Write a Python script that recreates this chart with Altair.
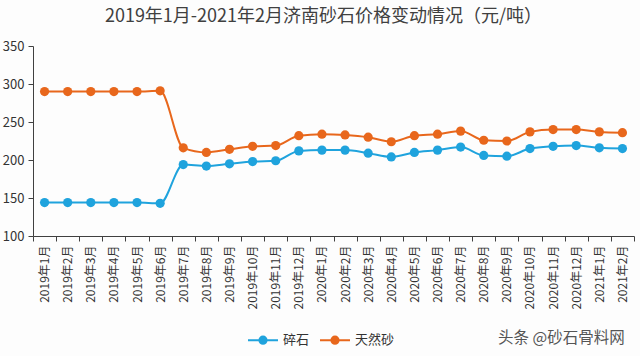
import altair as alt
import pandas as pd

months = [
    "2019年1月", "2019年2月", "2019年3月", "2019年4月", "2019年5月", "2019年6月",
    "2019年7月", "2019年8月", "2019年9月", "2019年10月", "2019年11月", "2019年12月",
    "2020年1月", "2020年2月", "2020年3月", "2020年4月", "2020年5月", "2020年6月",
    "2020年7月", "2020年8月", "2020年9月", "2020年10月", "2020年11月", "2020年12月",
    "2021年1月", "2021年2月",
]
crushed_stone = [144, 144, 144, 144, 144, 143, 194, 192, 195, 198, 199, 212, 213,
                 213, 209, 204, 210, 213, 217, 206, 205, 215, 218, 219, 216, 215]
natural_sand = [290, 290, 290, 290, 290, 291, 216, 210, 214, 218, 219, 232, 234,
                233, 230, 224, 232, 234, 238, 226, 225, 237, 240, 240, 237, 236]
series_names = ["碎石", "天然砂"]
series_colors = ["#1fa3dd", "#e8671c"]
y_ticks = [100, 150, 200, 250, 300, 350]

title_text = "2019年1月-2021年2月济南砂石价格变动情况（元/吨）"
watermark = "头条 @砂石骨料网"

FONT = "Noto Sans CJK SC"
AXIS_COLOR = "#404040"

rows = []
for name, vals in zip(series_names, [crushed_stone, natural_sand]):
    for m, v in zip(months, vals):
        rows.append({"month": m, "series": name, "value": v})
df = pd.DataFrame(rows)

# legend symbol: a short line with a filled dot (concentric circles to fill it)
def circ(r):
    return f"M{-r},0A{r},{r},0,1,1,{r},0A{r},{r},0,1,1,{-r},0"
legend_symbol = "M-1,0L1,0" + circ(0.24) + circ(0.14) + circ(0.05)

x_enc = alt.X(
    "month:N", sort=months, bandPosition=0.5,
    scale=alt.Scale(type="band", paddingInner=0, paddingOuter=0),
    axis=alt.Axis(title=None, labelAngle=270, tickBand="extent", labelFont=FONT,
                  labelFontSize=12, labelColor="#333333", domainColor=AXIS_COLOR,
                  tickColor=AXIS_COLOR, tickSize=5, labelPadding=4, grid=False),
)
y_enc = alt.Y(
    "value:Q",
    scale=alt.Scale(domain=[100, 350], nice=False, zero=False),
    axis=alt.Axis(title=None, values=y_ticks, grid=False, labelFont=FONT,
                  labelFontSize=13, labelColor="#333333", domainColor=AXIS_COLOR,
                  tickColor=AXIS_COLOR, tickSize=5, labelPadding=4),
)

base = alt.Chart(df).encode(x=x_enc, y=y_enc)

lines = base.mark_line(interpolate="monotone", strokeWidth=2).encode(
    color=alt.Color(
        "series:N",
        scale=alt.Scale(domain=series_names, range=series_colors),
        legend=alt.Legend(
            title=None, orient="none", legendX=214, legendY=278, direction="horizontal",
            symbolType=legend_symbol, symbolSize=900, symbolStrokeWidth=2,
            labelFont=FONT, labelFontSize=13, labelColor="#333333",
            labelOffset=4, columnPadding=6,
        ),
    ),
)

points = base.mark_point(filled=True, size=85, opacity=1).encode(
    fill=alt.Fill("series:N",
                  scale=alt.Scale(domain=series_names, range=series_colors),
                  legend=None),
)

wm = alt.Chart(pd.DataFrame({"t": [watermark]})).mark_text(
    font=FONT, fontSize=15.5, color="#555555", align="left", baseline="middle"
).encode(text="t:N", x=alt.value(465), y=alt.value(292))

chart = alt.layer(lines, points, wm).properties(
    width=601, height=190,
    title=alt.TitleParams(title_text, font=FONT, fontSize=18, fontWeight="normal",
                          color="#404040", anchor="middle", dx=-10, offset=14),
    autosize=alt.AutoSizeParams(type="none"),
    padding={"left": 33, "top": 46, "right": 6, "bottom": 120},
    background="#fdfdfd",
).configure_view(stroke=None)

chart.save("out.html", embed_options={"renderer": "svg", "actions": False})
